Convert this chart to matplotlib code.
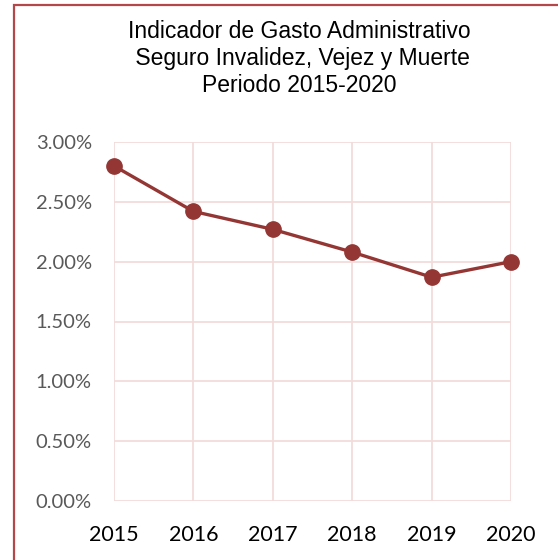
import matplotlib.pyplot as plt
from matplotlib.patches import Rectangle
from matplotlib.ticker import FuncFormatter

years = [2015, 2016, 2017, 2018, 2019, 2020]
gasto = [2.80, 2.42, 2.27, 2.08, 1.87, 2.00]
y_ticks = [0.0, 0.5, 1.0, 1.5, 2.0, 2.5, 3.0]
title_lines = ["Indicador de Gasto Administrativo",
               " Seguro Invalidez, Vejez y Muerte",
               "Periodo 2015-2020"]

W, H = 558, 560
fig = plt.figure(figsize=(W / 100, H / 100), dpi=100)

# outer frame, right and bottom edges fall off the picture
fig.patches.append(Rectangle((14 / W, -0.1), 1.2, 1 - 5 / H + 0.1,
                             transform=fig.transFigure, fill=False,
                             edgecolor='#b5474b', linewidth=1.6))

left, right = 114 / W, 511 / W
bottom, top = 1 - 501 / H, 1 - 142 / H
ax = fig.add_axes([left, bottom, right - left, top - bottom])

ax.plot(years, gasto, color='#943634', linewidth=2.4, marker='o',
        markersize=11, zorder=3, clip_on=False)

ax.set_xlim(2015, 2020)
ax.set_ylim(0, 3.0)
ax.set_xticks(years)
ax.set_yticks(y_ticks)
ax.yaxis.set_major_formatter(FuncFormatter(lambda v, p: '{:.2f}%'.format(v)))

ax.grid(True, color='#f2dcdb', linewidth=1.3)
ax.set_axisbelow(True)
for s in ax.spines.values():
    s.set_visible(False)
ax.tick_params(length=0)
ax.tick_params(axis='y', pad=16, labelsize=14.5, labelcolor='#595959')
ax.tick_params(axis='x', pad=17, labelsize=15.5, labelcolor='black')
for lbl in ax.get_xticklabels() + ax.get_yticklabels():
    lbl.set_family(['Lato', 'DejaVu Sans'])

baselines = [38, 65, 91.5]
for line, yb in zip(title_lines, baselines):
    fig.text(299 / W, 1 - yb / H, line, ha='center', va='baseline',
             fontsize=16.5, family=['Liberation Sans', 'DejaVu Sans'])

fig.savefig('out.png', dpi=100)
